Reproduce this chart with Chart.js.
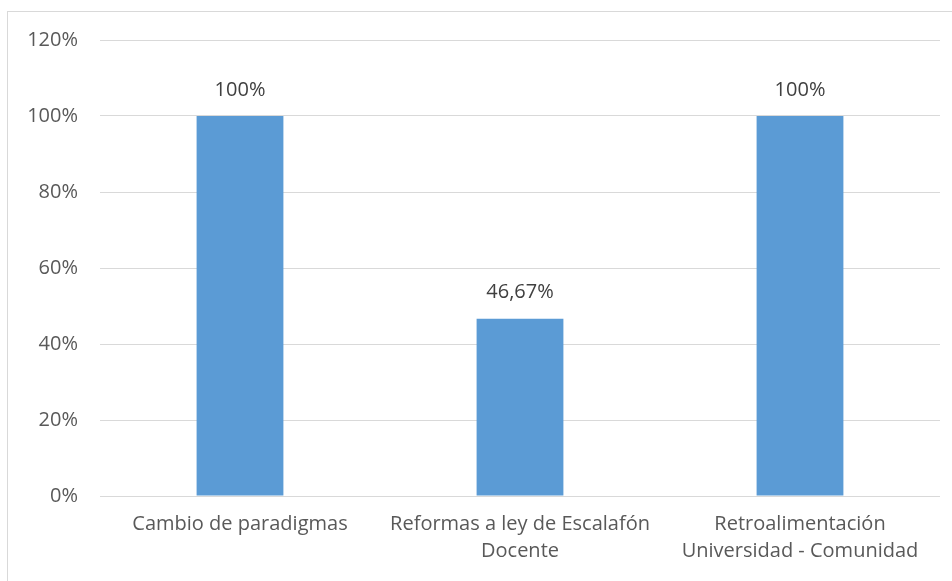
<!DOCTYPE html>
<html>
<head>
<meta charset="utf-8">
<script src="https://cdn.jsdelivr.net/npm/chart.js@4.4.0/dist/chart.umd.min.js"></script>
<style>
html,body{margin:0;padding:0;background:#fff;}
#frame{position:absolute;left:7px;top:11px;width:950px;height:600px;border:1px solid #d9d9d9;box-sizing:border-box;}
#wrap{position:absolute;left:0;top:0;width:952px;height:581px;}
</style>
</head>
<body>
<div id="frame"></div>
<div id="wrap"><canvas id="c"></canvas></div>
<script>
const categories = [
  "Cambio de paradigmas",
  ["Reformas a ley de Escalafón", "Docente"],
  ["Retroalimentación", "Universidad - Comunidad"]
];
const values = [100, 46.67, 100];
const valueLabels = ["100%", "46,67%", "100%"];
const yTicks = [0, 20, 40, 60, 80, 100, 120];

const FONT = '"Open Sans", sans-serif';

const labelPlugin = {
  id: 'valueLabels',
  afterDatasetsDraw(chart) {
    const ctx = chart.ctx;
    const meta = chart.getDatasetMeta(0);
    ctx.save();
    ctx.font = '20px ' + FONT;
    ctx.fillStyle = '#404040';
    ctx.textAlign = 'center';
    ctx.textBaseline = 'middle';
    meta.data.forEach((bar, i) => {
      ctx.fillText(valueLabels[i], bar.x, bar.y - 26);
    });
    ctx.restore();
  }
};

new Chart(document.getElementById('c'), {
  type: 'bar',
  data: {
    labels: categories,
    datasets: [{
      data: values,
      backgroundColor: '#5b9bd5',
      borderWidth: 0,
      categoryPercentage: 1,
      barPercentage: 0.31
    }]
  },
  options: {
    responsive: true,
    maintainAspectRatio: false,
    animation: false,
    layout: { padding: { left: 0, right: 12, top: 40, bottom: 0 } },
    plugins: { legend: { display: false }, tooltip: { enabled: false } },
    scales: {
      x: {
        grid: { display: false, drawTicks: false },
        border: { display: false },
        ticks: {
          color: '#595959',
          font: { family: FONT, size: 20, lineHeight: 1.35 },
          padding: 15,
          maxRotation: 0,
          autoSkip: false
        },
        afterFit(scale) { scale.height = 85; }
      },
      y: {
        min: 0, max: 120,
        afterBuildTicks(scale) { scale.ticks = yTicks.map(v => ({ value: v })); },
        grid: { color: '#d9d9d9', drawTicks: false },
        border: { display: false },
        ticks: {
          color: '#595959',
          font: { family: FONT, size: 20 },
          padding: 22,
          callback: v => v + '%'
        },
        afterFit(scale) { scale.width = 100; }
      }
    }
  },
  plugins: [labelPlugin]
});
</script>
</body>
</html>
